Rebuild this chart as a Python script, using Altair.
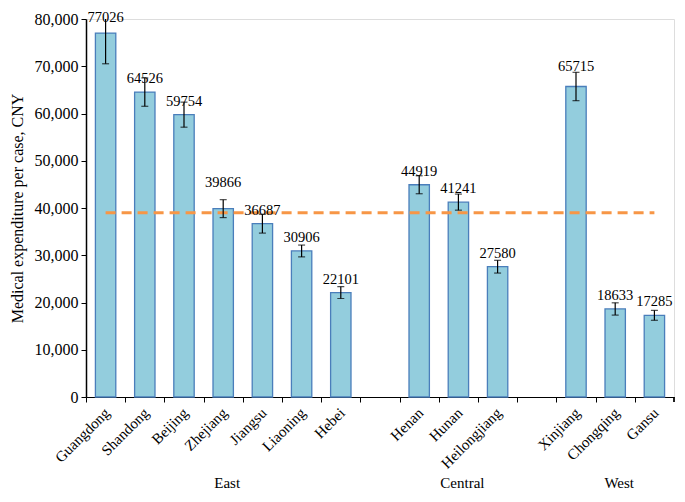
import altair as alt
import pandas as pd

provinces = ["Guangdong", "Shandong", "Beijing", "Zhejiang", "Jiangsu", "Liaoning", "Hebei",
             "Henan", "Hunan", "Heilongjiang", "Xinjiang", "Chongqing", "Gansu"]
regions = ["East"] * 7 + ["Central"] * 3 + ["West"] * 3
values = [77026, 64526, 59754, 39866, 36687, 30906, 22101, 44919, 41241, 27580, 65715, 18633, 17285]
errors = [6500, 3000, 2650, 1900, 2000, 1250, 1250, 1900, 1700, 1350, 3000, 1300, 1050]
domain_order = ["Guangdong", "Shandong", "Beijing", "Zhejiang", "Jiangsu", "Liaoning", "Hebei", "gap1",
                "Henan", "Hunan", "Heilongjiang", "gap2", "Xinjiang", "Chongqing", "Gansu"]
group_names = ["East", "Central", "West"]
group_center = ["Zhejiang", "Hunan", "Chongqing"]
average_value = 39000
y_ticks = [0, 10000, 20000, 30000, 40000, 50000, 60000, 70000, 80000]

df = pd.DataFrame({"province": provinces, "region": regions, "value": values, "err": errors})
df["lo"] = df["value"] - df["err"]
df["hi"] = df["value"] + df["err"]
gdf = pd.DataFrame({"group": group_names, "center": group_center})
avg = pd.DataFrame({"start": [provinces[0]], "end": [provinces[-1]], "value": [average_value]})

FONT = "Liberation Serif"
W, H = 588, 378
STEP = W / len(domain_order)

xscale = alt.Scale(domain=domain_order, paddingInner=0.48, paddingOuter=0.24)
yscale = alt.Scale(domain=[0, 80000], nice=False)

xaxis = alt.Axis(
    title=None, labelAngle=-45, labelAlign="right", labelBaseline="middle",
    labelExpr="indexof(datum.value, 'gap') == 0 ? '' : datum.value",
    tickOffset=-STEP / 2, labelOffset=STEP / 2 + 1,
    tickSize=5, tickColor="black", domainColor="black",
    labelFont=FONT, labelFontSize=15, labelColor="black", labelPadding=8,
    grid=False,
)
yaxis = alt.Axis(
    title="Medical expenditure per case, CNY", values=y_ticks, format=",d",
    tickSize=5, tickColor="black", domainColor="black", domainWidth=1.5,
    labelFont=FONT, labelFontSize=16, labelColor="black", labelPadding=3,
    titleFont=FONT, titleFontSize=16, titleFontWeight="normal", titleColor="black",
    titlePadding=9, grid=False,
)

X = alt.X("province:N", scale=xscale, axis=xaxis)
Y = alt.Y("value:Q", scale=yscale, axis=yaxis)

base = alt.Chart(df)

bars = base.mark_bar(color="#93CDDD", stroke="#4A7EBB", strokeWidth=1.3).encode(x=X, y=Y)

err_rule = base.mark_rule(color="black", strokeWidth=1.2, clip=True).encode(
    x=X, y=alt.Y("lo:Q", scale=yscale, axis=yaxis), y2="hi:Q",
)
cap_lo = base.mark_tick(color="black", size=7, thickness=1.2, clip=True).encode(
    x=X, y=alt.Y("lo:Q", scale=yscale, axis=yaxis))
cap_hi = base.mark_tick(color="black", size=7, thickness=1.2, clip=True).encode(
    x=X, y=alt.Y("hi:Q", scale=yscale, axis=yaxis))

avg_line = alt.Chart(avg).mark_rule(color="#F79646", strokeWidth=3, strokeDash=[10, 6]).encode(
    x=alt.X("start:N", scale=xscale, axis=xaxis),
    x2=alt.X2("end"),
    y=alt.Y("value:Q", scale=yscale, axis=yaxis),
)

def labels(filter_expr, dy):
    return base.transform_filter(filter_expr).mark_text(
        font=FONT, fontSize=14.5, color="black", baseline="middle", dy=dy
    ).encode(x=X, y=Y, text="value:Q")

lab_main = labels("datum.province != 'Guangdong' && datum.province != 'Zhejiang' && datum.province != 'Xinjiang'", -13)
lab_z = labels("datum.province == 'Zhejiang'", -26)
lab_x = labels("datum.province == 'Xinjiang'", -19)
lab_g = labels("datum.province == 'Guangdong'", -15)

group_text = alt.Chart(gdf).mark_text(font=FONT, fontSize=15, color="black", baseline="middle", dx=4).encode(
    x=alt.X("center:N", scale=xscale, axis=xaxis),
    y=alt.value(H + 86),
    text="group:N",
)

end_tick = alt.Chart(gdf).mark_rule(color="black").encode(
    x=alt.value(W), y=alt.value(H), y2=alt.value(H + 5)
)

chart = alt.layer(bars, avg_line, err_rule, cap_lo, cap_hi, lab_main, lab_z, lab_x, lab_g, group_text, end_tick).properties(
    width=W, height=H,
    autosize=alt.AutoSizeParams(type="none"),
    padding={"left": 78, "top": 11, "right": 3, "bottom": 97},
).configure_view(strokeWidth=0).configure(background="white")

chart.save("out.html", embed_options={"renderer": "svg", "actions": False})
